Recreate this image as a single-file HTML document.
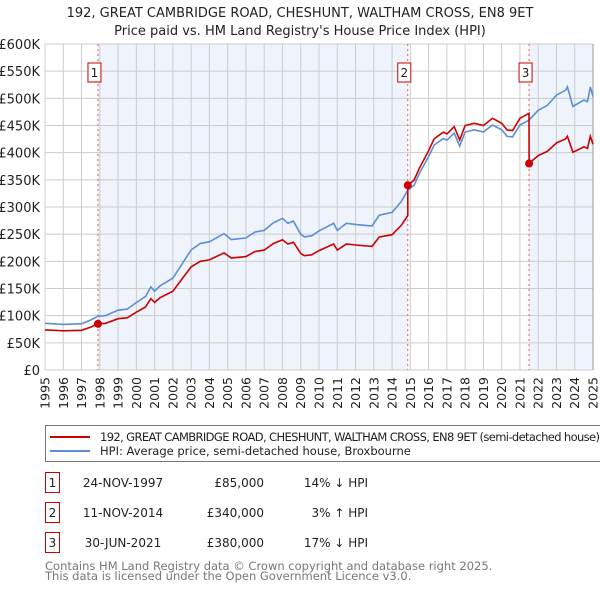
<!DOCTYPE html>
<html><head><meta charset="utf-8"><style>
body{margin:0;background:#fff}
svg{display:block;font-family:"DejaVu Sans","Liberation Sans",sans-serif}
</style></head><body>
<svg width="600" height="590" viewBox="0 0 600 590">
<text x="300" y="17" text-anchor="middle" font-size="13" fill="#222">192, GREAT CAMBRIDGE ROAD, CHESHUNT, WALTHAM CROSS, EN8 9ET</text>
<text x="300" y="35" text-anchor="middle" font-size="13" fill="#222">Price paid vs. HM Land Registry's House Price Index (HPI)</text>
<g id="plot"></g>
<g id="legend">
<rect x="45.5" y="425.5" width="560" height="36" fill="#fff" stroke="#777"/>
<line x1="50" y1="437" x2="90" y2="437" stroke="#cc0000" stroke-width="2"/>
<text x="100" y="441" font-size="11.5" fill="#222" textLength="500">192, GREAT CAMBRIDGE ROAD, CHESHUNT, WALTHAM CROSS, EN8 9ET (semi-detached house)</text>
<line x1="50" y1="451" x2="90" y2="451" stroke="#5b8ed6" stroke-width="2"/>
<text x="100" y="455" font-size="11.5" fill="#222">HPI: Average price, semi-detached house, Broxbourne</text>
</g>
<g id="table"></g>
<text x="45" y="570" font-size="11.5" fill="#777">Contains HM Land Registry data © Crown copyright and database right 2025.</text>
<text x="45" y="580" font-size="11.5" fill="#777">This data is licensed under the Open Government Licence v3.0.</text>
</svg>
<script>
const hpiYears=[1995,1995.5,1996,1996.5,1997,1997.5,1997.9,1998.3,1999,1999.5,2000,2000.5,2000.8,2001,2001.3,2002,2002.5,2003,2003.3,2003.5,2004,2004.8,2005.2,2006,2006.5,2007,2007.5,2008,2008.3,2008.6,2009,2009.2,2009.6,2010,2010.8,2011,2011.5,2012,2012.9,2013.3,2014,2014.5,2014.86,2015.2,2015.5,2016,2016.3,2016.8,2017,2017.4,2017.7,2018,2018.5,2019,2019.5,2020,2020.3,2020.6,2021,2021.5,2022,2022.5,2023,2023.5,2023.6,2023.9,2024.5,2024.7,2024.85,2025];
const hpiValues=[86000,85000,84000,84500,85000,92000,99000,100000,110000,112000,124000,135000,153000,145000,155000,169000,195000,221000,228000,233000,236000,251000,240000,243000,254000,257000,271000,279000,270000,274000,250000,245000,247000,256000,270000,257000,270000,268000,265000,285000,290000,310000,331000,340000,362000,393000,414000,426000,423000,436000,412000,438000,442000,438000,451000,442000,430000,429000,451000,460000,478000,487000,506000,515000,521000,485000,497000,494000,521000,503000];
const saleDates=[1997.9,2014.86,2021.5];
const salePrices=[85000,340000,380000];
const saleLabels=["24-NOV-1997","11-NOV-2014","30-JUN-2021"];
const salePriceText=["£85,000","£340,000","£380,000"];
const saleHpiText=["14% ↓ HPI","3% ↑ HPI","17% ↓ HPI"];
const yTicks=[0,50000,100000,150000,200000,250000,300000,350000,400000,450000,500000,550000,600000];
const yTickLabels=["£0","£50K","£100K","£150K","£200K","£250K","£300K","£350K","£400K","£450K","£500K","£550K","£600K"];
const xTicks=[1995,1996,1997,1998,1999,2000,2001,2002,2003,2004,2005,2006,2007,2008,2009,2010,2011,2012,2013,2014,2015,2016,2017,2018,2019,2020,2021,2022,2023,2024,2025];

const NS="http://www.w3.org/2000/svg";
const X0=45,X1=593,Y0=370,Y1=44;
const xs=t=>X0+(t-1995)/30*(X1-X0);
const ys=v=>Y0-v/600000*(Y0-Y1);
function mk(p,tag,a){const e=document.createElementNS(NS,tag);for(const k in a)e.setAttribute(k,a[k]);p.appendChild(e);return e;}
function hpiAt(t){for(let i=1;i<hpiYears.length;i++){if(t<=hpiYears[i]){const f=(t-hpiYears[i-1])/(hpiYears[i]-hpiYears[i-1]);return hpiValues[i-1]+f*(hpiValues[i]-hpiValues[i-1]);}}return hpiValues[hpiValues.length-1];}
const plot=document.getElementById('plot');
// shading
const sh1=mk(plot,'rect',{x:xs(saleDates[0]),y:Y1,width:xs(saleDates[1])-xs(saleDates[0]),height:Y0-Y1,fill:'#eef3fc'});


const sh2=mk(plot,'rect',{x:xs(saleDates[2]),y:Y1,width:X1-xs(saleDates[2]),height:Y0-Y1,fill:'#eef3fc'});


// grid
yTicks.forEach((v,i)=>{
 const l=mk(plot,'line',{x1:X0,x2:X1,y1:ys(v),y2:ys(v),stroke:'#ccc','stroke-width':1});
 
 
 const t=mk(plot,'text',{x:40,y:ys(v)+5,'text-anchor':'end','font-size':13,fill:'#222'});
 t.textContent=yTickLabels[i];
 
 
});
xTicks.forEach(yr=>{
 const l=mk(plot,'line',{x1:xs(yr),x2:xs(yr),y1:Y1,y2:Y0,stroke:'#ccc','stroke-width':1});
 
 
 const t=mk(plot,'text',{x:0,y:0,'text-anchor':'end','font-size':12.5,fill:'#222',transform:`translate(${xs(yr)+4.5},377) rotate(-90)`});
 t.textContent=yr;
 
 
});
const ax=mk(plot,'line',{x1:X1,x2:X1,y1:Y1,y2:Y0,stroke:'#999'});


// sale vlines
saleDates.forEach((d,i)=>{
 const l=mk(plot,'line',{x1:xs(d),x2:xs(d),y1:Y1,y2:Y0,stroke:'#e55','stroke-dasharray':'2,3','stroke-width':1});
 
 
 const bx=xs(d)-8-(i===2?0:0);
 const r=mk(plot,'rect',{x:xs(d)-10,y:63,width:13,height:19,fill:'#fff',stroke:'#cc0000'});
 
 
 const t=mk(plot,'text',{x:xs(d)-3.5,y:77,'text-anchor':'middle','font-size':12,fill:'#222'});
 t.textContent=i+1;
 
 
});
// HPI line
let d='';hpiYears.forEach((t,i)=>{d+=(i?'L':'M')+xs(t).toFixed(1)+','+ys(hpiValues[i]).toFixed(1);});
const hp=mk(plot,'path',{d:d,fill:'none',stroke:'#5b8ed6','stroke-width':1.6});


// property line: HPI scaled from latest sale
function seg(t){let k=0;for(let i=0;i<saleDates.length;i++)if(t>=saleDates[i])k=i;return k;}
let pd='';const pts=[...hpiYears];saleDates.forEach(s=>{pts.push(s-0.001);pts.push(s);});pts.sort((a,b)=>a-b);
pts.forEach((t,i)=>{const k=seg(t);const v=salePrices[k]/hpiAt(saleDates[k])*hpiAt(t);pd+=(i?'L':'M')+xs(t).toFixed(1)+','+ys(v).toFixed(1);});
const pp=mk(plot,'path',{d:pd,fill:'none',stroke:'#cc0000','stroke-width':1.6});


saleDates.forEach((s,i)=>{
 const c=mk(plot,'circle',{cx:xs(s),cy:ys(salePrices[i]),r:4,fill:'#cc0000'});
 
 
});
// table
const tb=document.getElementById('table');
saleDates.forEach((s,i)=>{
 const y=483+i*30;
 const r=mk(tb,'rect',{x:45.5,y:y-10.5,width:14,height:20,fill:'#fff',stroke:'#cc0000'});
 
 
 const n=mk(tb,'text',{x:52.5,y:y+4,'text-anchor':'middle','font-size':12,fill:'#222'});n.textContent=i+1;
 
 
 const a=mk(tb,'text',{x:123,y:y+4,'text-anchor':'middle','font-size':12,fill:'#222'});a.textContent=saleLabels[i];
 
 
 const b=mk(tb,'text',{x:264,y:y+4,'text-anchor':'end','font-size':12,fill:'#222'});b.textContent=salePriceText[i];
 
 
 const c=mk(tb,'text',{x:368,y:y+4,'text-anchor':'end','font-size':12,fill:'#222'});c.textContent=saleHpiText[i];
 
 
});
</script>
</body></html>
